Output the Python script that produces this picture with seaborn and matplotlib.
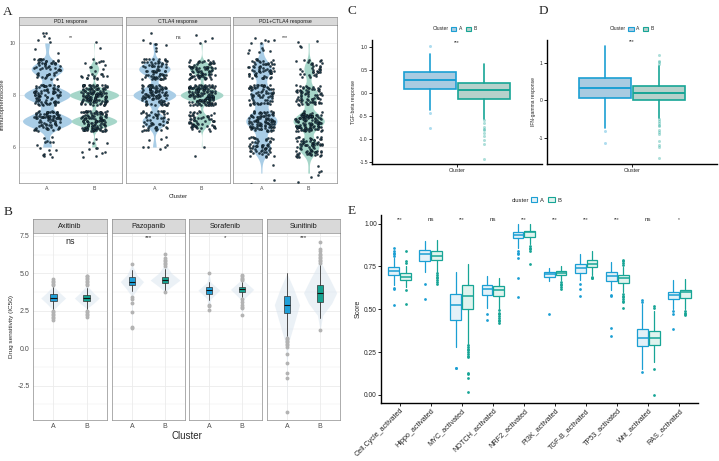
import numpy as np
import pandas as pd
import matplotlib
matplotlib.use("Agg")
import matplotlib.pyplot as plt
import seaborn as sns
from matplotlib.patches import Patch

W, H = 719, 461

# ---------------- Panel A: immunophenoscore (counts per score level) ----------------
ips_levels = [10, 9, 8, 7, 6, 5]
ips_facets = ["PD1 response", "CTLA4 response", "PD1+CTLA4 response"]
ips_counts_a = [[8, 55, 80, 85, 15, 0], [8, 70, 95, 55, 8, 0], [12, 60, 70, 95, 55, 3]]
ips_counts_b = [[2, 25, 130, 120, 12, 0], [4, 80, 140, 60, 2, 0], [4, 35, 70, 115, 75, 6]]
ips_sig = ["**", "ns", "***"]

# ---------------- Panel B: drug sensitivity (IC50) ----------------
drugs = ["Axitinib", "Pazopanib", "Sorafenib", "Sunitinib"]
drug_sig = ["ns", "***", "*", "***"]
# [whisker low, q1, median, q3, whisker high]
drug_box_a = [[2.6, 3.15, 3.35, 3.6, 4.1], [3.8, 4.2, 4.44, 4.73, 5.2],
              [3.25, 3.6, 3.88, 4.1, 4.45], [0.8, 2.32, 2.88, 3.48, 5.0]]
drug_box_b = [[2.6, 3.15, 3.35, 3.55, 4.0], [3.8, 4.33, 4.55, 4.78, 5.3],
              [3.4, 3.77, 3.93, 4.1, 4.45], [2.05, 3.1, 3.66, 4.22, 5.56]]
drug_fliers_a = [[4.2, 4.3, 4.4, 4.5, 4.6, 2.5, 2.4, 2.3, 2.2, 2.1, 2.0, 1.9],
                 [5.6, 3.4, 3.3, 3.0, 2.45, 1.45, 1.35],
                 [5.0, 2.9, 2.8, 2.55],
                 [0.7, 0.6, 0.5, 0.4, 0.3, 0.2, 0.1, -0.4, -1.0, -1.65, -2.0, -4.25]]
drug_fliers_b = [[4.2, 4.3, 4.4, 4.5, 4.6, 4.7, 4.8, 4.85, 2.5, 2.4, 2.3, 2.2, 2.1],
                 [5.5, 5.6, 5.7, 5.8, 5.9, 6.0, 6.3, 3.75],
                 [4.55, 4.6, 4.7, 4.8, 4.9, 3.3, 3.1, 2.9, 2.75, 2.7, 2.25],
                 [5.7, 5.8, 5.9, 6.0, 6.1, 6.2, 6.3, 6.5, 6.6, 7.1, 1.2]]
# violin outlines: score levels and half widths
drug_vio_y_a = [[1.85, 2.6, 3.0, 3.35, 3.7, 4.1, 4.6], [1.35, 3.5, 4.0, 4.45, 4.9, 5.6],
                [2.55, 3.3, 3.88, 4.4, 5.0], [-4.25, -1.0, 0.3, 1.5, 2.9, 4.0, 5.0]]
drug_vio_w_a = [[0, 0.03, 0.2, 0.37, 0.2, 0.03, 0], [0, 0.02, 0.18, 0.35, 0.15, 0],
                [0, 0.06, 0.33, 0.06, 0], [0, 0.01, 0.04, 0.2, 0.38, 0.2, 0]]
drug_vio_y_b = [[2.1, 2.7, 3.0, 3.35, 3.7, 4.1, 4.85], [3.75, 4.1, 4.55, 5.0, 5.5, 6.3],
                [2.25, 3.3, 3.93, 4.5, 4.9], [1.2, 2.2, 3.0, 3.7, 4.6, 5.6, 7.1]]
drug_vio_w_b = [[0, 0.03, 0.2, 0.37, 0.2, 0.04, 0], [0, 0.18, 0.45, 0.2, 0.04, 0],
                [0, 0.06, 0.35, 0.06, 0], [0, 0.08, 0.35, 0.5, 0.3, 0.06, 0]]

# ---------------- Panels C / D ----------------
tgf_box = {"A": [-0.38, 0.09, 0.28, 0.46, 0.84], "B": [-0.56, -0.14, 0.06, 0.22, 0.62]}
tgf_fliers = {"A": [1.03, -0.43, -0.77],
              "B": [-0.6, -0.65, -0.75, -0.78, -0.8, -0.88, -0.95, -1.03, -1.12, -1.45]}
ifn_box = {"A": [-0.75, 0.05, 0.33, 0.6, 1.45], "B": [-0.47, 0.01, 0.2, 0.37, 0.9]}
ifn_fliers = {"A": [-0.81, -1.13],
              "B": [0.95, 1.02, 1.05, 1.2, -0.5, -0.55, -0.6, -0.65, -0.7, -0.8, -0.85,
                    -0.9, -1.1, -1.2, -1.25, -1.55]}

# ---------------- Panel E: pathway scores ----------------
pathways = ["Cell.Cycle_activated", "Hippo_activated", "MYC_activated", "NOTCH_activated",
            "NRF2_activated", "PI3K_activated", "TGF-B_activated", "TP53_activated",
            "Wnt_activated", "RAS_activated"]
path_sig = ["***", "ns", "***", "ns", "***", "***", "***", "***", "ns", "*"]
path_box_a = [[0.64, 0.699, 0.725, 0.744, 0.80], [0.72, 0.783, 0.822, 0.848, 0.90],
              [0.28, 0.437, 0.523, 0.588, 0.715], [0.51, 0.584, 0.621, 0.64, 0.695],
              [0.86, 0.914, 0.933, 0.949, 0.995], [0.665, 0.69, 0.703, 0.715, 0.74],
              [0.67, 0.711, 0.738, 0.764, 0.82], [0.61, 0.666, 0.695, 0.719, 0.775],
              [0.15, 0.285, 0.334, 0.383, 0.53], [0.50, 0.559, 0.584, 0.602, 0.67]]
path_box_b = [[0.63, 0.67, 0.69, 0.71, 0.75], [0.72, 0.787, 0.812, 0.838, 0.905],
              [0.30, 0.50, 0.578, 0.643, 0.765], [0.50, 0.578, 0.613, 0.633, 0.685],
              [0.88, 0.924, 0.949, 0.959, 1.0], [0.67, 0.699, 0.713, 0.725, 0.75],
              [0.70, 0.744, 0.764, 0.787, 0.84], [0.60, 0.656, 0.68, 0.699, 0.745],
              [0.19, 0.289, 0.334, 0.373, 0.49], [0.50, 0.564, 0.598, 0.613, 0.675]]
path_fliers_a = [[0.86, 0.84, 0.83, 0.82, 0.81, 0.625, 0.62, 0.525], [0.65, 0.56],
                 [0.16, 0.155], [0.475, 0.435], [0.84, 0.83, 0.82, 0.80, 0.68, 0.57],
                 [0.47], [0.645, 0.62, 0.58], [0.585, 0.575, 0.39, 0.345],
                 [0.555, 0.545, 0.135], [0.49, 0.47, 0.385]]
path_fliers_b = [[0.77, 0.78, 0.84, 0.61, 0.53], [0.71, 0.70, 0.69, 0.68, 0.67, 0.66, 0.65],
                 [0.29, 0.28, 0.27, 0.26, 0.25, 0.24, 0.23, 0.22, 0.13, 0.12, 0.10, 0.015],
                 [0.495, 0.48, 0.47, 0.46, 0.45, 0.44, 0.43, 0.42],
                 [0.87, 0.86, 0.85, 0.84, 0.765], [0.66, 0.65, 0.64, 0.63, 0.62],
                 [0.69, 0.685, 0.68], [0.79, 0.78, 0.77, 0.76, 0.59, 0.58, 0.57, 0.56,
                                       0.55, 0.54, 0.51],
                 [0.52, 0.51, 0.15, 0.0], [0.49, 0.48, 0.47, 0.465]]

# ---------------- styling ----------------
sns.set_theme(style="white")
plt.rcParams["font.family"] = ["Liberation Sans", "DejaVu Sans"]
BLUE, TEAL = "#1b9fd3", "#17a596"
GRID = "#ebebeb"


def px_axes(fig, x0, y0, x1, y1):
    return fig.add_axes([x0 / W, 1 - y1 / H, (x1 - x0) / W, (y1 - y0) / H])


def five(b, fl):
    return dict(whislo=b[0], q1=b[1], med=b[2], q3=b[3], whishi=b[4], fliers=fl)


def jitter(k, seed):
    # deterministic hash jitter in [-0.5, 0.5), used only for point positions
    v = np.sin((k + 1) * 12.9898 + seed * 78.233) * 43758.5453
    return v - np.floor(v) - 0.5


def bw_style(ax):
    ax.set_facecolor("white")
    for s in ax.spines.values():
        s.set_color("#8c8c8c")
        s.set_linewidth(0.5)
    ax.grid(True, which="major", color=GRID, lw=0.6)
    ax.grid(True, which="minor", color=GRID, lw=0.3)
    ax.set_axisbelow(True)
    ax.tick_params(length=1.5, width=0.4, color="#555555", pad=1)


def strip(fig, x0, y0, x1, y1, text, size):
    sa = px_axes(fig, x0, y0, x1, y1)
    sa.set_facecolor("#d9d9d9")
    for s in sa.spines.values():
        s.set_color("#8c8c8c")
        s.set_linewidth(0.5)
    sa.set_xticks([])
    sa.set_yticks([])
    sa.text(0.5, 0.45, text, ha="center", va="center", fontsize=size, color="#1a1a1a")


def classic(ax):
    for side in ["top", "right"]:
        ax.spines[side].set_visible(False)
    for side in ["left", "bottom"]:
        ax.spines[side].set_color("black")
        ax.spines[side].set_linewidth(1.0)
    ax.grid(False)
    ax.tick_params(length=2, width=0.6, color="black", pad=1, left=True, bottom=True)


fig = plt.figure(figsize=(W / 100, H / 100), dpi=100)
fig.patch.set_facecolor("white")

serif = dict(family=["Liberation Serif", "DejaVu Serif"], fontsize=9.5)
fig.text(8 / W, 1 - 12 / H, "A", ha="center", va="center", **serif)
fig.text(8 / W, 1 - 212 / H, "B", ha="center", va="center", **serif)
fig.text(352 / W, 1 - 11 / H, "C", ha="center", va="center", **serif)
fig.text(543 / W, 1 - 11 / H, "D", ha="center", va="center", **serif)
fig.text(352 / W, 1 - 211 / H, "E", ha="center", va="center", **serif)

# ================= Panel A =================
rows = []
for f, ca, cb in zip(ips_facets, ips_counts_a, ips_counts_b):
    for cl, counts in (("A", ca), ("B", cb)):
        for lev, n in zip(ips_levels, counts):
            rows += [(f, cl, lev)] * n
df_ips = pd.DataFrame(rows, columns=["facet", "cluster", "score"])

a_x = [(19, 122), (126, 230), (233, 337)]
a_width = [1.05, 0.9, 0.66]
for i, f in enumerate(ips_facets):
    x0, x1 = a_x[i]
    strip(fig, x0, 17, x1, 25, f, 3.8)
    ax = px_axes(fig, x0, 25, x1, 183)
    bw_style(ax)
    sub = df_ips[df_ips.facet == f]
    sns.violinplot(data=sub, x="cluster", y="score", hue="cluster", order=["A", "B"],
                   hue_order=["A", "B"], palette={"A": "#a9cde6", "B": "#a6d6c9"},
                   cut=0, inner=None, bw_method=0.26, density_norm="area",
                   width=a_width[i], linewidth=0, saturation=1, legend=False, ax=ax)
    for pos, cl in enumerate(["A", "B"]):
        vals = sub[sub.cluster == cl].score.to_numpy(dtype=float)
        k = np.arange(len(vals))
        jx = jitter(k, 2 * i + pos) * 0.56
        jy = jitter(k, 2 * i + pos + 11) * 0.8
        ax.scatter(pos + jx, vals + jy, s=2.4, color="#1d3b4c", edgecolor="black",
                   linewidth=0.2, zorder=3)
    ax.text(0.5, 10.12, ips_sig[i], ha="center", va="bottom", fontsize=3.8)
    ax.set_xlim(-0.6, 1.6)
    ax.set_ylim(4.62, 10.69)
    ax.set_yticks([6, 8, 10])
    ax.set_yticks([5, 7, 9], minor=True)
    ax.set_xticks([0, 1])
    ax.set_xticklabels(["A", "B"], fontsize=3.8, color="#4d4d4d")
    ax.set_xlabel("Cluster" if i == 1 else "", fontsize=4.3, labelpad=1.5)
    ax.set_ylabel("")
    if i == 0:
        ax.set_yticklabels(["6", "8", "10"], fontsize=3.8, color="#4d4d4d")
        ax.set_ylabel("Immunophenoscore", fontsize=4.2, labelpad=3)
    else:
        ax.set_yticklabels([])
        ax.tick_params(axis="y", length=0)

# ================= Panel B =================
b_x = [(33, 107), (112, 185), (189, 262), (267, 340)]
for i, d in enumerate(drugs):
    x0, x1 = b_x[i]
    strip(fig, x0, 219, x1, 233, d, 5.2)
    ax = px_axes(fig, x0, 233, x1, 420)
    bw_style(ax)
    for pos, (vy, vw) in enumerate(((drug_vio_y_a[i], drug_vio_w_a[i]),
                                    (drug_vio_y_b[i], drug_vio_w_b[i]))):
        vy, vw = np.asarray(vy), np.asarray(vw)
        ax.fill_betweenx(vy, pos - vw, pos + vw, color="#d8e4ef", alpha=0.5, lw=0)
    stats = [five(drug_box_a[i], drug_fliers_a[i]), five(drug_box_b[i], drug_fliers_b[i])]
    bp = ax.bxp(stats, positions=[0, 1], widths=0.2, patch_artist=True, showcaps=False,
                boxprops=dict(edgecolor="#333333", linewidth=0.5),
                medianprops=dict(color="#111111", linewidth=0.8),
                whiskerprops=dict(color="#333333", linewidth=0.6),
                flierprops=dict(marker="o", markersize=2.8, markerfacecolor="#b3b3b3",
                                markeredgecolor="none"))
    for patch, c in zip(bp["boxes"], ["#1f9fd8", "#15a392"]):
        patch.set_facecolor(c)
    ax.text(0.5, 7.55 if i else 7.45, drug_sig[i], ha="center", va="top",
            fontsize=6.5 if drug_sig[i] == "ns" else 4.5)
    ax.set_xlim(-0.6, 1.6)
    ax.set_ylim(-4.8, 7.7)
    ax.set_yticks([-2.5, 0.0, 2.5, 5.0, 7.5])
    ax.set_yticks([-3.75, -1.25, 1.25, 3.75, 6.25], minor=True)
    ax.set_xticks([0, 1])
    ax.set_xticklabels(["A", "B"], fontsize=5, color="#4d4d4d")
    if i == 0:
        ax.set_yticklabels(["-2.5", "0.0", "2.5", "5.0", "7.5"], fontsize=5, color="#4d4d4d")
        ax.set_ylabel("Drug sensitivity (IC50)", fontsize=4.6, labelpad=2)
    else:
        ax.set_yticklabels([])
        ax.tick_params(axis="y", length=0)
fig.text(187 / W, 1 - 436 / H, "Cluster", ha="center", va="center", fontsize=7)


# ================= Panels C & D =================
def cd_panel(x0, x1, box, fliers, ylim, yticks, ylabels, ylabel, sig_y, legend_x):
    ax = px_axes(fig, x0, 40, x1, 164)
    classic(ax)
    stats = [five(box["A"], fliers["A"]), five(box["B"], fliers["B"])]
    bp = ax.bxp(stats, positions=[-0.19, 0.19], widths=0.37, patch_artist=True,
                showcaps=False, manage_ticks=False)
    for k, (ec, fc) in enumerate(((BLUE, "#a9cbe1"), (TEAL, "#b6d1cb"))):
        bp["boxes"][k].set(facecolor=fc, edgecolor=ec, linewidth=1.2)
        bp["medians"][k].set(color=ec, linewidth=1.4)
        for w in bp["whiskers"][2 * k:2 * k + 2]:
            w.set(color=ec, linewidth=1.2)
        bp["fliers"][k].set(marker="o", markersize=2.2, markerfacecolor=ec,
                            markeredgecolor="none", alpha=0.35)
    ax.text(0, sig_y, "***", ha="center", va="center", fontsize=3.5)
    ax.set_xlim(-0.6, 0.6)
    ax.set_ylim(*ylim)
    ax.set_xticks([0])
    ax.set_xticklabels(["Cluster"], fontsize=3.8)
    ax.set_yticks(yticks)
    ax.set_yticklabels(ylabels, fontsize=3.6)
    ax.set_ylabel(ylabel, fontsize=3.6, labelpad=2)
    fig.text(legend_x / W, 1 - 29 / H, "Cluster", ha="right", va="center", fontsize=3.6)
    handles = [Patch(facecolor=fc, edgecolor=ec, lw=0.8)
               for ec, fc in ((BLUE, "#a9cbe1"), (TEAL, "#b6d1cb"))]
    fig.legend(handles, ["A", "B"], loc="center left", ncol=2, frameon=False,
               bbox_to_anchor=((legend_x + 2) / W, 1 - 29 / H), fontsize=3.6,
               handlelength=1.1, handleheight=0.9, handletextpad=0.4, columnspacing=0.8,
               borderpad=0, borderaxespad=0)
    return ax


cd_panel(372, 542, tgf_box, tgf_fliers, (-1.55, 1.15), [-1.5, -1.0, -0.5, 0.0, 0.5, 1.0],
         ["-1.5", "-1.0", "-0.5", "0.0", "0.5", "1.0"], "TGF-beta response", 1.09, 449)
cd_panel(547, 717, ifn_box, ifn_fliers, (-1.7, 1.6), [-1, 0, 1], ["-1", "0", "1"],
         "IFN-gamma response", 1.55, 626)

# ================= Panel E =================
ax = px_axes(fig, 381, 215, 698, 403)
classic(ax)
pos = np.arange(len(pathways))
for stats_box, stats_fl, off, ec, fc in ((path_box_a, path_fliers_a, -0.19, BLUE, "#e3f1f8"),
                                        (path_box_b, path_fliers_b, 0.19, TEAL, "#e0f3ee")):
    stats = [five(b, f) for b, f in zip(stats_box, stats_fl)]
    ax.bxp(stats, positions=pos + off, widths=0.35, patch_artist=True, showcaps=False,
           manage_ticks=False,
           boxprops=dict(facecolor=fc, edgecolor=ec, linewidth=0.9),
           medianprops=dict(color=ec, linewidth=1.1),
           whiskerprops=dict(color=ec, linewidth=0.9),
           flierprops=dict(marker="o", markersize=2.0, markerfacecolor=ec,
                           markeredgecolor="none"))
for p, s in zip(pos, path_sig):
    ax.text(p, 1.025, s, ha="center", va="center", fontsize=4.5 if s == "ns" else 3.5,
            color="#333333")
ax.set_xlim(-0.6, 9.6)
ax.set_ylim(-0.047, 1.05)
ax.set_yticks([0.0, 0.25, 0.5, 0.75, 1.0])
ax.set_yticklabels(["0.00", "0.25", "0.50", "0.75", "1.00"], fontsize=4.8)
ax.set_xticks(pos)
ax.set_xticklabels(pathways, rotation=45, ha="right", rotation_mode="anchor", fontsize=5.2)
ax.set_ylabel("Score", fontsize=5, labelpad=2)
fig.text(529 / W, 1 - 200 / H, "cluster", ha="right", va="center", fontsize=4.2)
handles = [Patch(facecolor=fc, edgecolor=ec, lw=0.8)
           for ec, fc in ((BLUE, "#e3f1f8"), (TEAL, "#e0f3ee"))]
fig.legend(handles, ["A", "B"], loc="center left", ncol=2, frameon=False,
           bbox_to_anchor=(531 / W, 1 - 200 / H), fontsize=4.2, handlelength=1.1,
           handleheight=0.9, handletextpad=0.4, columnspacing=0.8, borderpad=0,
           borderaxespad=0)

fig.savefig("out.png", dpi=100, facecolor="white")
